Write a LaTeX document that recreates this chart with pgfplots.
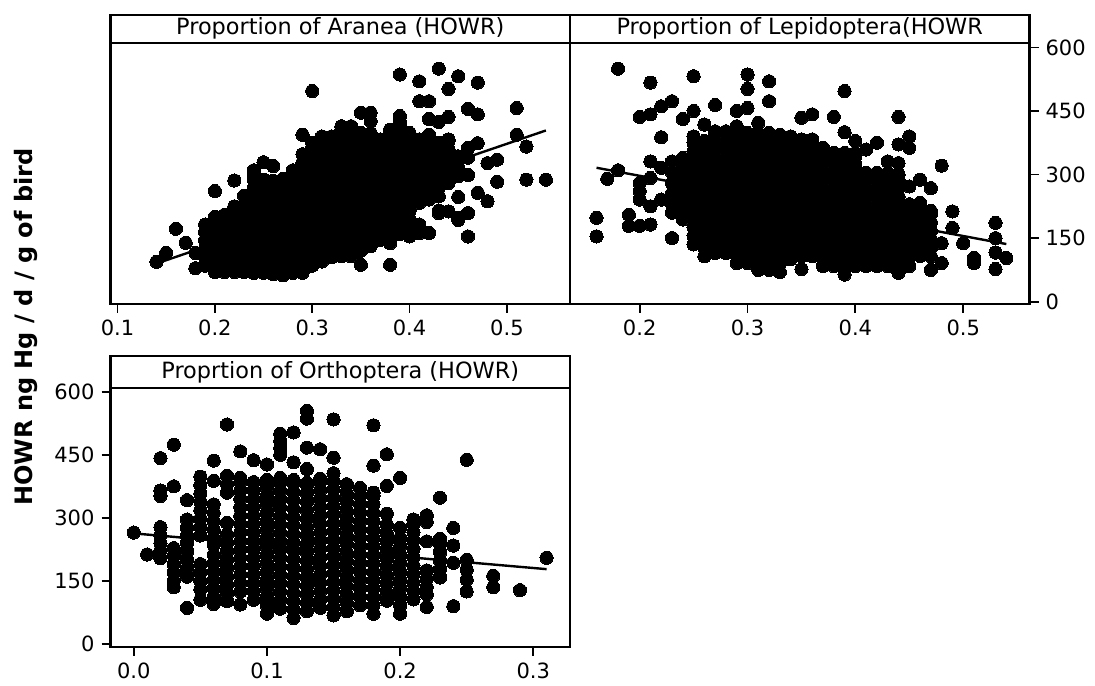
\documentclass[border=0pt]{standalone}
\usepackage{pgfplots}
\pgfplotsset{compat=1.18}
\usepackage{fontspec}
\setmainfont{DejaVu Sans}
\setsansfont{DejaVu Sans}
\tikzset{ttl/.style={font=\fontsize{11.2}{13}\selectfont}}
\newcommand{\tl}[1]{\mbox{\fontsize{10.5}{12}\selectfont #1}}
\pgfplotsset{
  panel/.style={
    scale only axis, width=229.75pt, clip=false,
    axis line style={line width=1.1pt},
    every tick/.style={black, line width=0.9pt},
    tick align=outside, major tick length=4.5pt,
    xtick pos=left,
    /pgf/number format/assume math mode=true,
    tick label style={font=\fontsize{10.5}{12}\selectfont},
  },
  dots/.style={only marks, mark=*, mark size=3.3pt, mark options={fill=black, draw=black, line width=0pt}},
  fit/.style={black, line width=1.2pt, no marks},
}
\begin{document}
\begin{tikzpicture}
\useasboundingbox (0,0) rectangle (547.5pt,342.5pt);
% ---------- top left: Aranea ----------
\begin{axis}[panel, at={(55.25pt,190.5pt)}, anchor=south west, height=130.5pt,
  xmin=0.0928, xmax=0.5648, ymin=-5.5, ymax=610.5,
  xtick={0.1,0.2,0.3,0.4,0.5},
  xticklabels={\tl{0.1},\tl{0.2},\tl{0.3},\tl{0.4},\tl{0.5}}, ytick=\empty]
\addplot[dots] coordinates {
(0.14,94)(0.15,115)(0.16,172)(0.17,139)(0.18,79)(0.18,115)
(0.19,85)(0.19,105)(0.19,125)(0.19,145)(0.19,165)(0.19,182)
(0.20,70)(0.20,90)(0.20,110)(0.20,130)(0.20,150)(0.20,170)(0.20,190)(0.20,200)(0.20,261)
(0.21,70)(0.21,90)(0.21,110)(0.21,130)(0.21,150)(0.21,170)(0.21,190)(0.21,205)
(0.22,70)(0.22,90)(0.22,110)(0.22,130)(0.22,150)(0.22,170)(0.22,190)(0.22,210)(0.22,225)(0.22,286)
(0.23,70)(0.23,90)(0.23,110)(0.23,130)(0.23,150)(0.23,170)(0.23,190)(0.23,210)(0.23,230)(0.23,250)
(0.24,68)(0.24,88)(0.24,108)(0.24,128)(0.24,148)(0.24,168)(0.24,188)(0.24,208)(0.24,228)(0.24,248)(0.24,268)(0.24,288)(0.24,296)(0.24,310)
(0.25,68)(0.25,88)(0.25,108)(0.25,128)(0.25,148)(0.25,168)(0.25,188)(0.25,208)(0.25,228)(0.25,248)(0.25,268)(0.25,288)(0.25,329)
(0.26,65)(0.26,85)(0.26,105)(0.26,125)(0.26,145)(0.26,165)(0.26,185)(0.26,205)(0.26,225)(0.26,245)(0.26,265)(0.26,285)(0.26,320)
(0.27,62)(0.27,82)(0.27,102)(0.27,122)(0.27,142)(0.27,162)(0.27,182)(0.27,202)(0.27,222)(0.27,242)(0.27,262)(0.27,282)(0.27,290)
(0.28,68)(0.28,88)(0.28,108)(0.28,128)(0.28,148)(0.28,168)(0.28,188)(0.28,208)(0.28,228)(0.28,248)(0.28,268)(0.28,288)(0.28,304)(0.28,310)
(0.29,68)(0.29,88)(0.29,108)(0.29,128)(0.29,148)(0.29,168)(0.29,188)(0.29,208)(0.29,228)(0.29,248)(0.29,268)(0.29,288)(0.29,308)(0.29,328)(0.29,348)(0.29,394)
(0.30,85)(0.30,105)(0.30,125)(0.30,145)(0.30,165)(0.30,185)(0.30,205)(0.30,225)(0.30,245)(0.30,265)(0.30,285)(0.30,305)(0.30,325)(0.30,345)(0.30,365)(0.30,375)(0.30,497)
(0.31,95)(0.31,115)(0.31,135)(0.31,155)(0.31,175)(0.31,195)(0.31,215)(0.31,235)(0.31,255)(0.31,275)(0.31,295)(0.31,315)(0.31,335)(0.31,355)(0.31,375)(0.31,390)
(0.32,105)(0.32,125)(0.32,145)(0.32,165)(0.32,185)(0.32,205)(0.32,225)(0.32,245)(0.32,265)(0.32,285)(0.32,305)(0.32,325)(0.32,345)(0.32,365)(0.32,385)(0.32,390)
(0.33,107)(0.33,127)(0.33,147)(0.33,167)(0.33,187)(0.33,207)(0.33,227)(0.33,247)(0.33,267)(0.33,287)(0.33,307)(0.33,327)(0.33,347)(0.33,367)(0.33,387)(0.33,407)(0.33,414)
(0.34,107)(0.34,127)(0.34,147)(0.34,167)(0.34,187)(0.34,207)(0.34,227)(0.34,247)(0.34,267)(0.34,287)(0.34,307)(0.34,327)(0.34,347)(0.34,367)(0.34,387)(0.34,407)(0.34,414)
(0.35,87)(0.35,120)(0.35,140)(0.35,160)(0.35,180)(0.35,200)(0.35,220)(0.35,240)(0.35,260)(0.35,280)(0.35,300)(0.35,320)(0.35,340)(0.35,360)(0.35,380)(0.35,398)(0.35,446)
(0.36,131)(0.36,151)(0.36,171)(0.36,191)(0.36,211)(0.36,231)(0.36,251)(0.36,271)(0.36,291)(0.36,311)(0.36,331)(0.36,351)(0.36,371)(0.36,391)(0.36,398)(0.36,426)(0.36,446)
(0.37,146)(0.37,166)(0.37,186)(0.37,206)(0.37,226)(0.37,246)(0.37,266)(0.37,286)(0.37,306)(0.37,326)(0.37,346)(0.37,366)(0.37,383)
(0.38,87)(0.38,138)(0.38,158)(0.38,178)(0.38,198)(0.38,218)(0.38,238)(0.38,258)(0.38,278)(0.38,298)(0.38,318)(0.38,338)(0.38,358)(0.38,378)(0.38,398)(0.38,406)
(0.39,160)(0.39,170)(0.39,190)(0.39,210)(0.39,230)(0.39,250)(0.39,270)(0.39,290)(0.39,310)(0.39,330)(0.39,350)(0.39,370)(0.39,390)(0.39,410)(0.39,418)(0.39,425)(0.39,438)(0.39,536)
(0.40,154)(0.40,174)(0.40,194)(0.40,214)(0.40,234)(0.40,254)(0.40,274)(0.40,294)(0.40,314)(0.40,334)(0.40,354)(0.40,374)(0.40,394)(0.40,398)
(0.41,162)(0.41,182)(0.41,233)(0.41,253)(0.41,273)(0.41,293)(0.41,313)(0.41,333)(0.41,353)(0.41,373)(0.41,383)(0.41,473)(0.41,520)
(0.42,162)(0.42,241)(0.42,261)(0.42,281)(0.42,301)(0.42,321)(0.42,341)(0.42,361)(0.42,381)(0.42,394)(0.42,431)(0.42,473)
(0.43,209)(0.43,215)(0.43,249)(0.43,269)(0.43,289)(0.43,309)(0.43,329)(0.43,349)(0.43,369)(0.43,375)(0.43,424)(0.43,550)
(0.44,213)(0.44,280)(0.44,300)(0.44,320)(0.44,340)(0.44,360)(0.44,380)(0.44,383)(0.44,436)(0.44,502)
(0.45,193)(0.45,198)(0.45,247)(0.45,296)(0.45,316)(0.45,336)(0.45,343)(0.45,532)
(0.46,154)(0.46,209)(0.46,299)(0.46,340)(0.46,363)(0.46,455)
(0.47,257)(0.47,374)(0.47,442)(0.47,517)
(0.48,237)(0.48,327)(0.49,283)(0.49,335)
(0.51,394)(0.51,457)(0.52,288)(0.52,366)(0.54,288)
};
\addplot[fit] coordinates {(0.14,90)(0.54,404)};
\draw[line width=1.1pt] (rel axis cs:0,1) rectangle (rel axis cs:1,1.1086);
\node[ttl] at (rel axis cs:0.5,1.0543) {Proportion of Aranea (HOWR)};
\end{axis}
% ---------- top right: Lepidoptera ----------
\begin{axis}[panel, at={(285pt,190.5pt)}, anchor=south west, height=130.5pt,
  xmin=0.1354, xmax=0.5615, ymin=-5.5, ymax=610.5,
  xtick={0.2,0.3,0.4,0.5},
  xticklabels={\tl{0.2},\tl{0.3},\tl{0.4},\tl{0.5}},
  ytick={0,150,300,450,600},
  yticklabels={\tl{0},\tl{150},\tl{300},\tl{450},\tl{600}},
  ytick pos=right, yticklabel pos=right]
\addplot[dots] coordinates {
(0.16,154)(0.16,198)(0.17,290)(0.18,310)(0.18,550)(0.19,179)(0.19,205)
(0.20,179)(0.20,241)(0.20,261)(0.20,280)(0.20,436)
(0.21,182)(0.21,225)(0.21,292)(0.21,331)(0.21,442)(0.21,517)
(0.22,241)(0.22,316)(0.22,388)(0.22,461)
(0.23,150)(0.23,210)(0.23,230)(0.23,255)(0.23,280)(0.23,305)(0.23,331)(0.23,473)
(0.24,194)(0.24,214)(0.24,234)(0.24,254)(0.24,274)(0.24,294)(0.24,314)(0.24,334)(0.24,339)(0.24,431)
(0.25,135)(0.25,155)(0.25,175)(0.25,195)(0.25,215)(0.25,235)(0.25,255)(0.25,275)(0.25,295)(0.25,315)(0.25,335)(0.25,355)(0.25,375)(0.25,390)(0.25,450)(0.25,532)
(0.26,107)(0.26,127)(0.26,147)(0.26,167)(0.26,187)(0.26,207)(0.26,227)(0.26,247)(0.26,267)(0.26,287)(0.26,307)(0.26,327)(0.26,347)(0.26,367)(0.26,379)(0.26,418)
(0.27,115)(0.27,135)(0.27,155)(0.27,175)(0.27,195)(0.27,215)(0.27,235)(0.27,255)(0.27,275)(0.27,295)(0.27,315)(0.27,335)(0.27,355)(0.27,375)(0.27,395)(0.27,402)(0.27,464)
(0.28,115)(0.28,135)(0.28,155)(0.28,175)(0.28,195)(0.28,215)(0.28,235)(0.28,255)(0.28,275)(0.28,295)(0.28,315)(0.28,335)(0.28,355)(0.28,375)(0.28,395)(0.28,402)
(0.29,91)(0.29,111)(0.29,131)(0.29,151)(0.29,171)(0.29,191)(0.29,211)(0.29,231)(0.29,251)(0.29,271)(0.29,291)(0.29,311)(0.29,331)(0.29,351)(0.29,371)(0.29,391)(0.29,398)(0.29,414)(0.29,450)
(0.30,91)(0.30,111)(0.30,131)(0.30,151)(0.30,171)(0.30,191)(0.30,211)(0.30,231)(0.30,251)(0.30,271)(0.30,291)(0.30,311)(0.30,331)(0.30,351)(0.30,371)(0.30,391)(0.30,398)(0.30,457)(0.30,502)(0.30,536)
(0.31,75)(0.31,95)(0.31,115)(0.31,135)(0.31,155)(0.31,175)(0.31,195)(0.31,215)(0.31,235)(0.31,255)(0.31,275)(0.31,295)(0.31,315)(0.31,335)(0.31,355)(0.31,375)(0.31,395)(0.31,398)(0.31,422)
(0.32,75)(0.32,95)(0.32,115)(0.32,135)(0.32,155)(0.32,175)(0.32,195)(0.32,215)(0.32,235)(0.32,255)(0.32,275)(0.32,295)(0.32,315)(0.32,335)(0.32,355)(0.32,375)(0.32,395)(0.32,398)(0.32,473)(0.32,520)
(0.33,70)(0.33,90)(0.33,110)(0.33,130)(0.33,150)(0.33,170)(0.33,190)(0.33,210)(0.33,230)(0.33,250)(0.33,270)(0.33,290)(0.33,310)(0.33,330)(0.33,350)(0.33,370)(0.33,390)(0.33,394)
(0.34,100)(0.34,120)(0.34,140)(0.34,160)(0.34,180)(0.34,200)(0.34,220)(0.34,240)(0.34,260)(0.34,280)(0.34,300)(0.34,320)(0.34,340)(0.34,360)(0.34,380)(0.34,390)
(0.35,77)(0.35,107)(0.35,127)(0.35,147)(0.35,167)(0.35,187)(0.35,207)(0.35,227)(0.35,247)(0.35,267)(0.35,287)(0.35,307)(0.35,327)(0.35,347)(0.35,367)(0.35,383)(0.35,434)
(0.36,107)(0.36,127)(0.36,147)(0.36,167)(0.36,187)(0.36,207)(0.36,227)(0.36,247)(0.36,267)(0.36,287)(0.36,307)(0.36,327)(0.36,347)(0.36,367)(0.36,383)(0.36,442)
(0.37,84)(0.37,104)(0.37,124)(0.37,144)(0.37,164)(0.37,184)(0.37,204)(0.37,224)(0.37,244)(0.37,264)(0.37,284)(0.37,304)(0.37,324)(0.37,344)(0.37,351)(0.37,363)
(0.38,84)(0.38,104)(0.38,124)(0.38,144)(0.38,164)(0.38,184)(0.38,204)(0.38,224)(0.38,244)(0.38,264)(0.38,284)(0.38,304)(0.38,324)(0.38,344)(0.38,351)(0.38,436)
(0.39,64)(0.39,84)(0.39,104)(0.39,124)(0.39,144)(0.39,164)(0.39,184)(0.39,204)(0.39,224)(0.39,244)(0.39,264)(0.39,284)(0.39,304)(0.39,324)(0.39,344)(0.39,351)(0.39,400)(0.39,497)
(0.40,84)(0.40,104)(0.40,124)(0.40,144)(0.40,164)(0.40,184)(0.40,204)(0.40,224)(0.40,244)(0.40,264)(0.40,284)(0.40,304)(0.40,324)(0.40,344)(0.40,351)(0.40,379)
(0.41,84)(0.41,104)(0.41,124)(0.41,144)(0.41,164)(0.41,184)(0.41,204)(0.41,224)(0.41,244)(0.41,264)(0.41,284)(0.41,304)(0.41,359)
(0.42,84)(0.42,104)(0.42,124)(0.42,144)(0.42,164)(0.42,184)(0.42,204)(0.42,224)(0.42,244)(0.42,264)(0.42,284)(0.42,304)(0.42,375)
(0.43,84)(0.43,104)(0.43,124)(0.43,144)(0.43,164)(0.43,184)(0.43,204)(0.43,224)(0.43,244)(0.43,264)(0.43,284)(0.43,304)(0.43,331)
(0.44,68)(0.44,88)(0.44,108)(0.44,128)(0.44,148)(0.44,168)(0.44,188)(0.44,208)(0.44,228)(0.44,248)(0.44,268)(0.44,288)(0.44,300)(0.44,327)(0.44,371)(0.44,436)
(0.45,84)(0.45,104)(0.45,124)(0.45,144)(0.45,164)(0.45,184)(0.45,204)(0.45,224)(0.45,230)(0.45,272)(0.45,363)(0.45,390)
(0.46,108)(0.46,128)(0.46,148)(0.46,168)(0.46,188)(0.46,208)(0.46,228)(0.46,233)(0.46,288)
(0.47,75)(0.47,107)(0.47,127)(0.47,147)(0.47,167)(0.47,187)(0.47,207)(0.47,214)(0.47,268)
(0.48,91)(0.48,138)(0.48,321)(0.49,174)(0.49,213)(0.50,138)(0.51,91)(0.51,103)
(0.53,77)(0.53,116)(0.53,150)(0.53,186)(0.54,103)
};
\addplot[fit] coordinates {(0.16,316)(0.54,136)};
\draw[line width=1.1pt] (rel axis cs:0,1) rectangle (rel axis cs:1,1.1086);
\node[ttl] at (rel axis cs:0.5,1.0543) {Proportion of Lepidoptera(HOWR};
\end{axis}
% ---------- bottom left: Orthoptera ----------
\begin{axis}[panel, at={(55.25pt,19.15pt)}, anchor=south west, height=129.2pt,
  xmin=-0.0175, xmax=0.3276, ymin=-6.4, ymax=608,
  xtick={0,0.1,0.2,0.3},
  xticklabels={\tl{0.0},\tl{0.1},\tl{0.2},\tl{0.3}},
  ytick={0,150,300,450,600},
  yticklabels={\tl{0},\tl{150},\tl{300},\tl{450},\tl{600}},
  ytick pos=left]
\addplot[dots] coordinates {
(0,265)(0.01,213)
(0.02,204)(0.02,222)(0.02,240)(0.02,258)(0.02,278)(0.02,352)(0.02,365)(0.02,442)
(0.03,135)(0.03,150)(0.03,170)(0.03,190)(0.03,210)(0.03,228)(0.03,375)(0.03,474)
(0.04,86)(0.04,160)(0.04,180)(0.04,200)(0.04,220)(0.04,240)(0.04,256)(0.04,276)(0.04,296)(0.04,342)
(0.05,105)(0.05,130)(0.05,150)(0.05,170)(0.05,190)(0.05,258)(0.05,278)(0.05,298)(0.05,318)(0.05,338)(0.05,358)(0.05,378)(0.05,398)
(0.06,95)(0.06,112)(0.06,132)(0.06,152)(0.06,172)(0.06,192)(0.06,212)(0.06,236)(0.06,252)(0.06,272)(0.06,292)(0.06,312)(0.06,332)(0.06,388)(0.06,436)
(0.07,102)(0.07,120)(0.07,140)(0.07,160)(0.07,180)(0.07,200)(0.07,220)(0.07,240)(0.07,260)(0.07,288)(0.07,360)(0.07,380)(0.07,400)(0.07,522)
(0.08,94)(0.08,125)(0.08,145)(0.08,165)(0.08,185)(0.08,205)(0.08,225)(0.08,245)(0.08,265)(0.08,285)(0.08,305)(0.08,325)(0.08,345)(0.08,365)(0.08,385)(0.08,395)(0.08,458)
(0.09,105)(0.09,125)(0.09,145)(0.09,165)(0.09,185)(0.09,205)(0.09,225)(0.09,245)(0.09,265)(0.09,285)(0.09,305)(0.09,325)(0.09,345)(0.09,365)(0.09,385)(0.09,437)
(0.10,72)(0.10,92)(0.10,112)(0.10,132)(0.10,152)(0.10,172)(0.10,192)(0.10,212)(0.10,232)(0.10,252)(0.10,272)(0.10,292)(0.10,312)(0.10,332)(0.10,352)(0.10,372)(0.10,390)(0.10,427)
(0.11,84)(0.11,104)(0.11,124)(0.11,144)(0.11,164)(0.11,184)(0.11,204)(0.11,224)(0.11,244)(0.11,264)(0.11,284)(0.11,304)(0.11,324)(0.11,344)(0.11,364)(0.11,384)(0.11,395)(0.11,450)(0.11,466)(0.11,482)(0.11,500)
(0.12,62)(0.12,82)(0.12,102)(0.12,122)(0.12,142)(0.12,162)(0.12,182)(0.12,202)(0.12,222)(0.12,242)(0.12,262)(0.12,282)(0.12,302)(0.12,322)(0.12,342)(0.12,362)(0.12,382)(0.12,390)(0.12,432)(0.12,503)
(0.13,78)(0.13,98)(0.13,118)(0.13,138)(0.13,158)(0.13,178)(0.13,198)(0.13,218)(0.13,238)(0.13,258)(0.13,278)(0.13,298)(0.13,318)(0.13,338)(0.13,358)(0.13,378)(0.13,383)(0.13,416)(0.13,467)(0.13,536)(0.13,554)
(0.14,86)(0.14,106)(0.14,126)(0.14,146)(0.14,166)(0.14,186)(0.14,206)(0.14,226)(0.14,246)(0.14,266)(0.14,286)(0.14,306)(0.14,326)(0.14,346)(0.14,366)(0.14,386)(0.14,393)(0.14,463)
(0.15,68)(0.15,88)(0.15,108)(0.15,128)(0.15,148)(0.15,168)(0.15,188)(0.15,208)(0.15,228)(0.15,248)(0.15,268)(0.15,288)(0.15,308)(0.15,328)(0.15,348)(0.15,368)(0.15,388)(0.15,406)(0.15,443)(0.15,534)
(0.16,78)(0.16,98)(0.16,118)(0.16,138)(0.16,158)(0.16,178)(0.16,198)(0.16,218)(0.16,238)(0.16,258)(0.16,278)(0.16,298)(0.16,318)(0.16,338)(0.16,358)(0.16,378)(0.16,380)
(0.17,92)(0.17,112)(0.17,132)(0.17,152)(0.17,172)(0.17,192)(0.17,212)(0.17,232)(0.17,252)(0.17,272)(0.17,292)(0.17,312)(0.17,332)(0.17,352)(0.17,371)
(0.18,72)(0.18,92)(0.18,112)(0.18,132)(0.18,152)(0.18,172)(0.18,192)(0.18,212)(0.18,232)(0.18,252)(0.18,272)(0.18,292)(0.18,312)(0.18,332)(0.18,352)(0.18,360)(0.18,424)(0.18,520)
(0.19,103)(0.19,123)(0.19,143)(0.19,163)(0.19,183)(0.19,203)(0.19,223)(0.19,243)(0.19,263)(0.19,284)(0.19,310)(0.19,376)(0.19,451)
(0.20,72)(0.20,92)(0.20,112)(0.20,132)(0.20,152)(0.20,172)(0.20,192)(0.20,212)(0.20,232)(0.20,252)(0.20,276)(0.20,395)
(0.21,106)(0.21,126)(0.21,146)(0.21,166)(0.21,186)(0.21,206)(0.21,226)(0.21,246)(0.21,266)(0.21,286)(0.21,296)
(0.22,88)(0.22,118)(0.22,135)(0.22,155)(0.22,175)(0.22,244)(0.22,290)(0.22,306)
(0.23,158)(0.23,178)(0.23,198)(0.23,218)(0.23,238)(0.23,250)(0.23,348)
(0.24,90)(0.24,193)(0.24,234)(0.24,276)
(0.25,125)(0.25,153)(0.25,177)(0.25,200)(0.25,438)
(0.27,135)(0.27,162)(0.29,128)(0.31,205)
};
\addplot[fit] coordinates {(0,263)(0.31,178)};
\draw[line width=1.1pt] (rel axis cs:0,1) rectangle (rel axis cs:1,1.125);
\node[ttl] at (rel axis cs:0.5,1.0625) {Proprtion of Orthoptera (HOWR)};
\end{axis}
\node[rotate=90, font=\bfseries\fontsize{12}{14}\selectfont] at (13pt,179pt) {HOWR ng Hg / d / g of bird};
\end{tikzpicture}
\end{document}
